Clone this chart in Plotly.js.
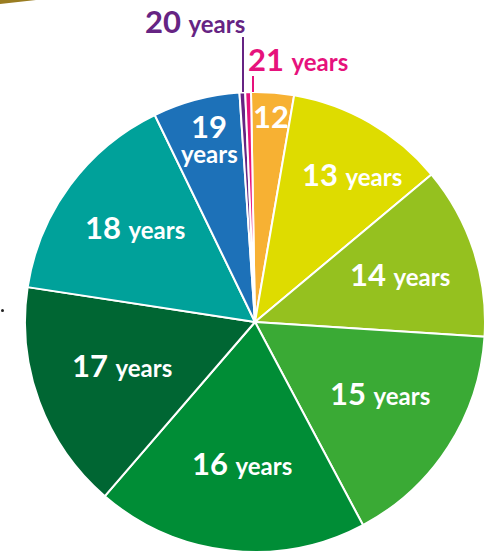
<!DOCTYPE html>
<html>
<head>
<meta charset="utf-8">
<script src="https://cdn.plot.ly/plotly-3.0.1.min.js"></script>
<style>html,body{margin:0;padding:0;background:#fff;}#chart{width:491px;height:553px;}</style>
</head>
<body>
<div id="chart"></div>
<script>
// Data
const ages = ["12", "13", "14", "15", "16", "17", "18", "19", "20", "21"];
const shares = [3.0, 11.2, 12.1, 16.2, 19.1, 16.1, 15.4, 6.1, 0.4, 0.4];
const sliceColors = ["#f7b133", "#dedc00", "#95c11f", "#3aaa35", "#008d36", "#006633", "#00a19a", "#1d71b8", "#662483", "#e6127c"];
const labelTexts = ["12", "13 years", "14 years", "15 years", "16 years", "17 years", "18 years", "19<br>years", "20 years", "21 years"];

const W = 491, H = 553;
const px = x => x / W;
const py = y => 1 - y / H;

// pie geometry (pixels)
const cx = 255, cy = 322, r = 230;

const trace = {
  type: "pie",
  labels: ages,
  values: shares,
  sort: false,
  direction: "clockwise",
  rotation: -1,
  marker: {colors: sliceColors, line: {color: "#ffffff", width: 2}},
  textinfo: "none",
  hoverinfo: "none",
  domain: {x: [px(cx - r), px(cx + r)], y: [py(cy + r), py(cy - r)]}
};

const BIG = 31, SMALL = 24;
const FONT = "Lato, 'Open Sans', sans-serif";

// label positions (pixels) and colours
const labelPos = [[271, 116], [352, 174], [400, 274], [380, 393], [242, 463], [122, 365], [135, 227], [209, 139], [195, 21], [298, 59]];
const labelCol = ["#fff", "#fff", "#fff", "#fff", "#fff", "#fff", "#fff", "#fff", "#662483", "#e6127c"];

const annotations = [];
labelTexts.forEach((t, i) => {
  const [x, y] = labelPos[i];
  const base = {xref: "paper", yref: "paper", xanchor: "center", yanchor: "middle", showarrow: false};
  if (t.indexOf("<br>") >= 0) {
    const [a, b] = t.split("<br>");
    annotations.push(Object.assign({}, base, {text: "<b>" + a + "</b>", x: px(x), y: py(y - 13), font: {family: FONT, size: BIG, color: labelCol[i]}}));
    annotations.push(Object.assign({}, base, {text: "<b>" + b + "</b>", x: px(x), y: py(y + 14), font: {family: FONT, size: SMALL, color: labelCol[i]}}));
  } else if (t.indexOf(" ") >= 0) {
    const [a, b] = t.split(" ");
    annotations.push(Object.assign({}, base, {text: "<b>" + a + " <span style='font-size:" + SMALL + "px'>" + b + "</span></b>", x: px(x), y: py(y), font: {family: FONT, size: BIG, color: labelCol[i]}}));
  } else {
    annotations.push(Object.assign({}, base, {text: "<b>" + t + "</b>", x: px(x), y: py(y), font: {family: FONT, size: BIG, color: labelCol[i]}}));
  }
});

const shapes = [
  {type: "line", xref: "paper", yref: "paper", x0: px(243), x1: px(243), y0: py(37), y1: py(92), line: {color: "#662483", width: 2}},
  {type: "line", xref: "paper", yref: "paper", x0: px(253), x1: px(253), y0: py(76), y1: py(92), line: {color: "#e6127c", width: 2}},
  {type: "path", xref: "paper", yref: "paper", path: "M 0 1 L " + px(36) + " 1 L 0 " + py(4) + " Z", fillcolor: "#9a7d22", line: {width: 0}},
  {type: "circle", xref: "paper", yref: "paper", x0: px(1), x1: px(4), y0: py(312), y1: py(309), fillcolor: "#222", line: {width: 0}}
];

const layout = {
  width: W, height: H,
  margin: {l: 0, r: 0, t: 0, b: 0},
  showlegend: false,
  paper_bgcolor: "#ffffff",
  annotations: annotations,
  shapes: shapes
};

Plotly.newPlot("chart", [trace], layout, {displayModeBar: false, staticPlot: true});
</script>
</body>
</html>
